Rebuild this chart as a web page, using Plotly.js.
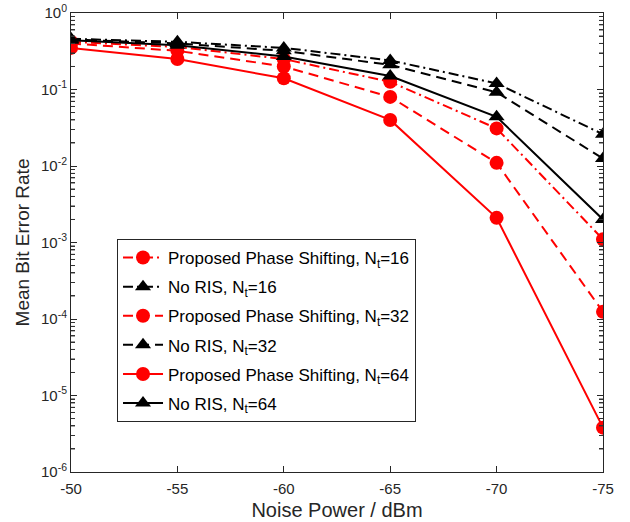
<!DOCTYPE html>
<html>
<head>
<meta charset="utf-8">
<script src="https://cdn.plot.ly/plotly-3.0.1.min.js"></script>
<style>html,body{margin:0;padding:0;background:#fff;}#chart{width:630px;height:522px;}</style>
</head>
<body>
<div id="chart"></div>
<script>
const noisePower = [-50, -55, -60, -65, -70, -75];
const propNt16 = [0.42, 0.36, 0.25, 0.126, 0.031, 0.0011];
const noRisNt16 = [0.46, 0.42, 0.35, 0.24, 0.12, 0.026];
const propNt32 = [0.40, 0.32, 0.20, 0.080, 0.011, 0.000124];
const noRisNt32 = [0.45, 0.40, 0.32, 0.21, 0.092, 0.0125];
const propNt64 = [0.35, 0.25, 0.14, 0.040, 0.0021, 0.0000038];
const noRisNt64 = [0.44, 0.38, 0.27, 0.15, 0.044, 0.002];
const seriesNames = [
  'Proposed Phase Shifting, N<sub>t</sub>=16',
  'No RIS, N<sub>t</sub>=16',
  'Proposed Phase Shifting, N<sub>t</sub>=32',
  'No RIS, N<sub>t</sub>=32',
  'Proposed Phase Shifting, N<sub>t</sub>=64',
  'No RIS, N<sub>t</sub>=64'
];
const xTickVals = [-50, -55, -60, -65, -70, -75];
const xTickText = ['-50', '-55', '-60', '-65', '-70', '-75'];
const yTickVals = [1e-6, 1e-5, 1e-4, 1e-3, 1e-2, 1e-1, 1];
const yTickText = ['10<sup>-6</sup>', '10<sup>-5</sup>', '10<sup>-4</sup>', '10<sup>-3</sup>', '10<sup>-2</sup>', '10<sup>-1</sup>', '10<sup>0</sup>'];
const yMinorMantissas = [2, 3, 4, 5, 6, 7, 8, 9];

const yMinorVals = [];
for (let e = -6; e < 0; e++) {
  for (const m of yMinorMantissas) yMinorVals.push(m * Math.pow(10, e));
}

const red = '#ff0000', black = '#000000';
const dashDot = '10px,4px,2px,4px';
const dashed = '10px,6px';
function tr(y, name, color, dash, symbol, grp) {
  return {
    x: noisePower, y: y, name: name, type: 'scatter', mode: 'lines+markers',
    legendgroup: grp,
    line: {color: color, width: 2, dash: dash},
    marker: {color: color, size: 14, symbol: symbol, line: {width: 0}}
  };
}
const data = [
  tr(propNt16, seriesNames[0], red, dashDot, 'circle', 'g1'),
  tr(noRisNt16, seriesNames[1], black, dashDot, 'triangle-up', 'g2'),
  tr(propNt32, seriesNames[2], red, dashed, 'circle', 'g3'),
  tr(noRisNt32, seriesNames[3], black, dashed, 'triangle-up', 'g4'),
  tr(propNt64, seriesNames[4], red, 'solid', 'circle', 'g5'),
  tr(noRisNt64, seriesNames[5], black, 'solid', 'triangle-up', 'g6')
];
const axColor = '#262626';
const plotW = 630 - 71 - 27;
const minorLen = 4 / plotW;
const shapes = [];
for (const v of yMinorVals) {
  shapes.push({type: 'line', xref: 'paper', yref: 'y', x0: 0, x1: minorLen, y0: v, y1: v, line: {color: '#333', width: 1}, layer: 'above'});
  shapes.push({type: 'line', xref: 'paper', yref: 'y', x0: 1, x1: 1 - minorLen, y0: v, y1: v, line: {color: '#333', width: 1}, layer: 'above'});
}
const layout = {
  width: 630, height: 522,
  margin: {l: 71, r: 27, t: 13, b: 50},
  paper_bgcolor: '#fff', plot_bgcolor: '#fff',
  font: {family: 'Liberation Sans, Arial, sans-serif', color: axColor, size: 15},
  showlegend: true,
  shapes: shapes,
  legend: {
    x: 0.0865, y: 0.5076, xanchor: 'left', yanchor: 'top',
    bgcolor: '#fff', bordercolor: axColor, borderwidth: 1,
    font: {size: 17, color: '#000'}, itemwidth: 40, tracegroupgap: 4,
    traceorder: 'grouped'
  },
  xaxis: {
    range: [-50, -75], tickvals: xTickVals, ticktext: xTickText,
    ticks: 'inside', ticklen: 6, tickcolor: axColor, tickwidth: 1,
    showline: true, linecolor: axColor, linewidth: 1, mirror: 'ticks',
    showgrid: false, zeroline: false, ticklabelstandoff: 3,
    tickfont: {size: 15, color: axColor},
    title: {text: 'Noise Power / dBm', font: {size: 20, color: axColor}, standoff: 6}
  },
  yaxis: {
    type: 'log', range: [-6, 0], tickvals: yTickVals, ticktext: yTickText,
    ticks: 'inside', ticklen: 6, tickcolor: axColor, tickwidth: 1,
    showline: true, linecolor: axColor, linewidth: 1, mirror: 'ticks',
    showgrid: false, zeroline: false,
    minor: {ticks: 'inside', ticklen: 4, tickcolor: '#333', dtick: 'D1', showgrid: false},
    tickfont: {size: 15, color: axColor},
    title: {text: 'Mean Bit Error Rate', font: {size: 19, color: axColor}, standoff: 6}
  }
};
Plotly.newPlot('chart', data, layout, {displayModeBar: false, staticPlot: true});
</script>
</body>
</html>
